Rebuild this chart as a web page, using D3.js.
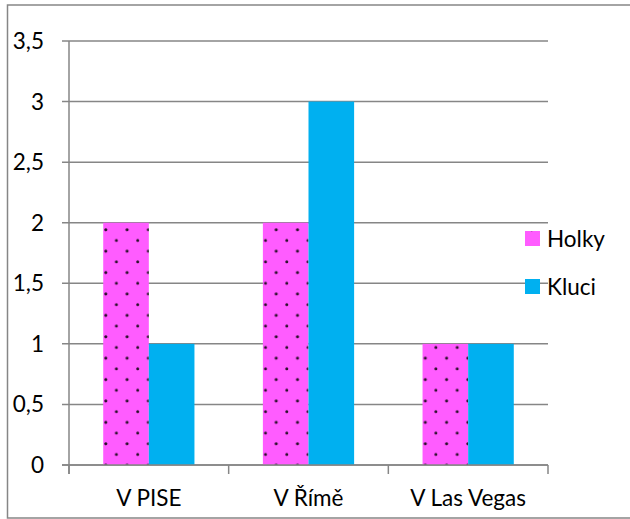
<!DOCTYPE html>
<html><head><meta charset="utf-8">
<script src="https://cdn.jsdelivr.net/npm/d3@7"></script>
<style>html,body{margin:0;padding:0;background:#fff}svg{display:block}</style>
</head><body>
<script>
const categories = ["V PISE", "V Římě", "V Las Vegas"];
const seriesNames = ["Holky", "Kluci"];
const holky = [2, 2, 1];
const kluci = [1, 3, 1];
const yTicks = [0, 0.5, 1, 1.5, 2, 2.5, 3, 3.5];

(function () {
const W = 630, H = 519;
const FONT = "Lato, 'Noto Sans', sans-serif";
const svg = d3.select("body").append("svg").attr("width", W).attr("height", H);

const defs = svg.append("defs");
const pat = defs.append("pattern").attr("id", "dots").attr("patternUnits", "userSpaceOnUse")
  .attr("width", 21.3).attr("height", 21.4).attr("x", 105).attr("y", 229);
pat.append("rect").attr("width", 21.3).attr("height", 21.4).attr("fill", "#FF5CFF");
const dotC = "#2a102a", dotR = 1.5;
[[0.8, 0.8], [11.4, 11.5], [22.1, 0.8], [0.8, 22.2], [22.1, 22.2]].forEach(p =>
  pat.append("circle").attr("cx", p[0]).attr("cy", p[1]).attr("r", dotR).attr("fill", dotC));

// outer border
svg.append("rect").attr("x", 7.5).attr("y", 5).attr("width", 640).attr("height", 513)
  .attr("fill", "none").attr("stroke", "#868686").attr("stroke-width", 1.5);

const pLeft = 69, pRight = 548, pTop = 41, pBottom = 465;
const x = d3.scaleBand().domain(categories).range([pLeft, pRight]);
const y = d3.scaleLinear().domain([0, 3.5]).range([pBottom, pTop]);
const inner = d3.scaleBand().domain(seriesNames).range([0, x.bandwidth()]).paddingInner(0).paddingOuter(0.75);

// gridlines
svg.append("g").selectAll("line").data(yTicks).join("line")
  .attr("x1", pLeft - 7).attr("x2", pRight)
  .attr("y1", d => y(d)).attr("y2", d => y(d))
  .attr("stroke", "#868686").attr("stroke-width", 1.5);

// bars
const colors = {Holky: "url(#dots)", Kluci: "#00B0F0"};
const data = [];
categories.forEach((c, i) => {
  data.push({c, s: "Holky", v: holky[i]});
  data.push({c, s: "Kluci", v: kluci[i]});
});
svg.append("g").selectAll("rect").data(data).join("rect")
  .attr("x", d => x(d.c) + inner(d.s))
  .attr("width", inner.bandwidth())
  .attr("y", d => y(d.v))
  .attr("height", d => y(0) - y(d.v))
  .attr("fill", d => colors[d.s]);

// y axis line
svg.append("line").attr("x1", pLeft).attr("x2", pLeft).attr("y1", pTop).attr("y2", pBottom + 9)
  .attr("stroke", "#868686").attr("stroke-width", 1.5);
// category ticks
const catEdges = categories.map(c => x(c)).concat([pRight]);
svg.append("g").selectAll("line").data(catEdges).join("line")
  .attr("x1", d => d).attr("x2", d => d).attr("y1", pBottom).attr("y2", pBottom + 9)
  .attr("stroke", "#868686").attr("stroke-width", 1.5);
svg.append("line").attr("x1", pLeft - 7).attr("x2", pRight).attr("y1", pBottom).attr("y2", pBottom)
  .attr("stroke", "#868686").attr("stroke-width", 1.5);

// y labels
const fmt = d => String(d).replace(".", ",");
svg.append("g").selectAll("text").data(yTicks).join("text")
  .attr("x", 44).attr("y", d => y(d) + 8)
  .attr("text-anchor", "end").attr("font-family", FONT).attr("font-size", 22.5).attr("fill", "#000")
  .text(fmt);

// x labels
svg.append("g").selectAll("text").data(categories).join("text")
  .attr("x", d => x(d) + x.bandwidth() / 2).attr("y", 506)
  .attr("text-anchor", "middle").attr("font-family", FONT).attr("font-size", 22.5).attr("fill", "#000")
  .text(d => d);

// legend
const leg = svg.append("g");
const legY = [231, 279];
seriesNames.forEach((s, i) => {
  leg.append("rect").attr("x", 525).attr("y", legY[i]).attr("width", 15).attr("height", 15)
    .attr("fill", colors[s]);
  leg.append("text").attr("x", 547).attr("y", legY[i] + 16)
    .attr("font-family", FONT).attr("font-size", 22.5).attr("fill", "#000").text(s);
});
})();
</script>
</body></html>
